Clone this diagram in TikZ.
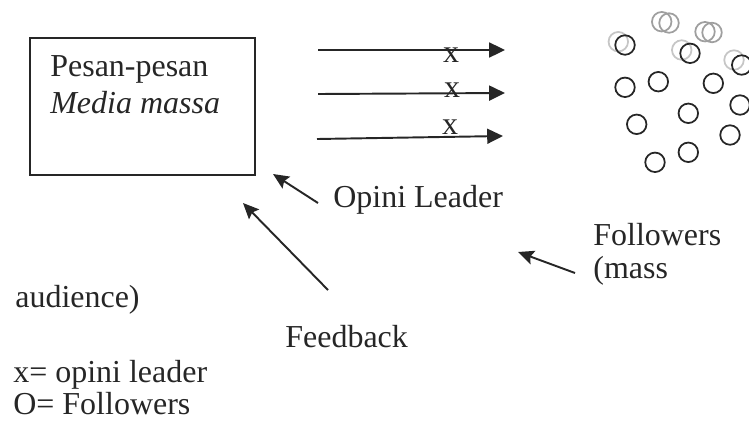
\documentclass[tikz,border=0pt]{standalone}
\usepackage{fontspec}
\setmainfont{Liberation Serif}
\usetikzlibrary{arrows.meta}
\definecolor{ink}{HTML}{262626}
\begin{document}
\begin{tikzpicture}[x=0.02cm,y=-0.02cm,
  every node/.style={text=ink},
  lbl/.style={anchor=base west, inner sep=0pt, font=\fontsize{18.2}{22}\selectfont},
  xl/.style={inner sep=0pt, font=\fontsize{18.2}{22}\selectfont},
  conn/.style={draw=ink, line width=1.1pt, -{Stealth[length=9pt,width=8pt,inset=1.5pt]}},
  hconn/.style={draw=ink, line width=1.1pt, -{Triangle[length=9pt,width=8.5pt]}},
  fol/.style={circle, draw=ink, line width=1pt, minimum size=0.39cm, inner sep=0pt},
  ghost/.style={fol, draw=gray!45},
  mid/.style={fol, draw=gray!75},
]
\useasboundingbox (0,0) rectangle (749,420);
\clip (0,0) rectangle (749,420);

% main box
\node (box) [draw=ink, line width=1.2pt, minimum width=4.5cm, minimum height=2.74cm,
  anchor=north west, inner sep=0pt] at (29,37) {};
\node (t1) [lbl] at (50,76) {Pesan-pesan};
\node (t2) [lbl] at (50,113) {\itshape Media massa};

% horizontal arrows with opinion leaders
\coordinate (a1s) at (318,50);  \coordinate (a1e) at (505,50);
\coordinate (a2s) at (318,94);  \coordinate (a2e) at (505,93);
\coordinate (a3s) at (317,139); \coordinate (a3e) at (503,136);
\draw[hconn] (a1s) -- (a1e);
\draw[hconn] (a2s) -- (a2e);
\draw[hconn] (a3s) -- (a3e);
\node (x1) [xl] at (451,55) {x};
\node (x2) [xl] at (452,90) {x};
\node (x3) [xl] at (450,127) {x};

% followers
\node (g1) [mid]   at (661.7,21.7) {};
\node (g2) [mid]   at (669,23) {};
\node (g3) [mid]   at (705,31.7) {};
\node (g4) [mid]   at (712,32.5) {};
\node (g5) [ghost] at (618.3,41.7) {};
\node (f1) [fol]   at (625,45) {};
\node (g6) [ghost] at (681.7,50) {};
\node (f2) [fol]   at (690,53.3) {};
\node (g7) [ghost] at (734,60) {};
\node (f3) [fol]   at (741.7,65) {};
\node (f4) [fol]   at (625,87.3) {};
\node (f5) [fol]   at (658.3,81.7) {};
\node (f6) [fol]   at (713.3,83.3) {};
\node (f7) [fol]   at (740,105) {};
\node (f8) [fol]   at (688.3,113.3) {};
\node (f9) [fol]   at (636.7,124.3) {};
\node (f10) [fol]  at (730,135) {};
\node (f11) [fol]  at (688.3,152.3) {};
\node (f12) [fol]  at (655,162.3) {};

% labels
\node (ol) [lbl] at (333,207) {Opini Leader};
\node (fw1) [lbl] at (593,245) {Followers};
\node (fw2) [lbl] at (593,278) {(mass};
\node (au) [lbl] at (15,307) {audience)};
\node (fb) [lbl] at (285,347) {Feedback};
\node (k1) [lbl] at (13,382) {x= opini leader};
\node (k2) [lbl] at (13,414) {O= Followers};

% feedback arrows
\coordinate (olt) at (318,203);  \coordinate (olh) at (273,174);
\coordinate (fbt) at (328,290);  \coordinate (fbh) at (243,203);
\coordinate (fwt) at (575,273);  \coordinate (fwh) at (518,252);
\draw[conn] (olt) -- (olh);
\draw[conn] (fbt) -- (fbh);
\draw[conn] (fwt) -- (fwh);
\end{tikzpicture}
\end{document}
